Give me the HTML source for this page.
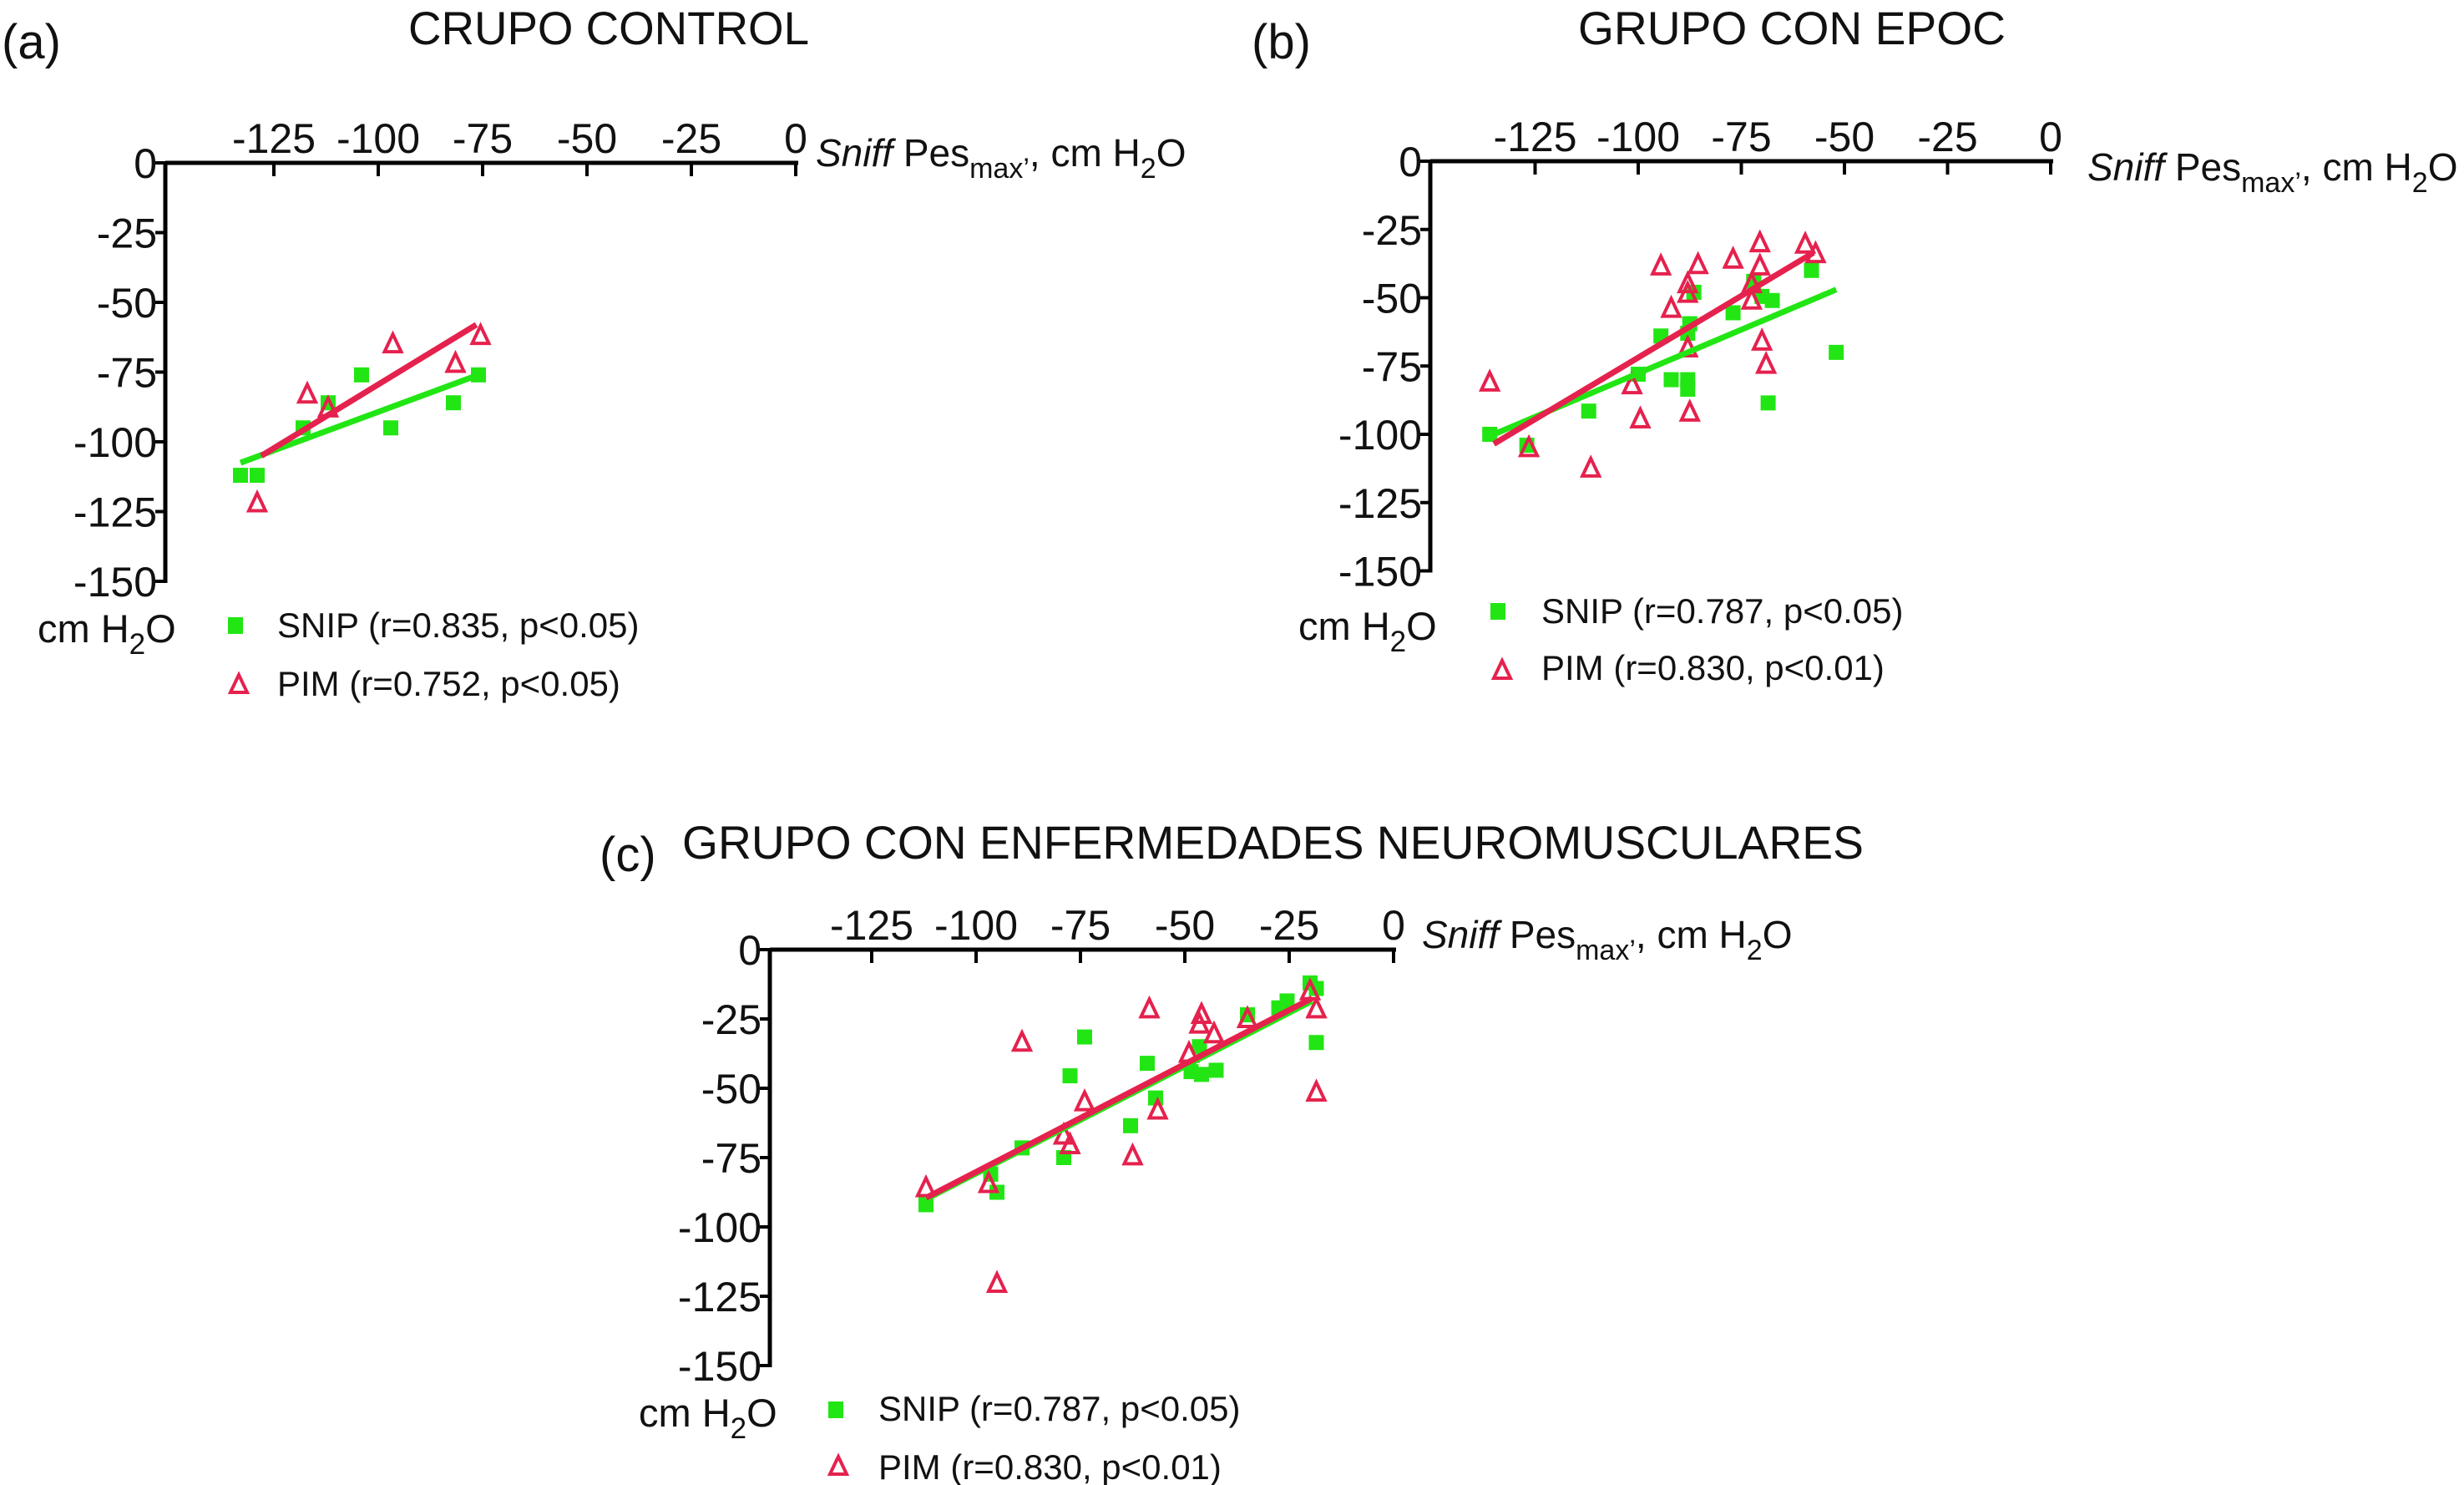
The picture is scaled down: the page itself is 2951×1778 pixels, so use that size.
<!DOCTYPE html>
<html><head><meta charset="utf-8"><style>
html,body{margin:0;padding:0;background:#fff;}
svg{display:block;font-family:"Liberation Sans",Arial,sans-serif;}
</style></head><body>
<svg id="fig" width="2951" height="1778" viewBox="0 0 2951 1778" xmlns="http://www.w3.org/2000/svg"></svg>
<script>
const xTicks = [-125,-100,-75,-50,-25,0];
const yTicks = [0,-25,-50,-75,-100,-125,-150];
// Panel A (control)
const aSnipX = [-133,-129,-118,-112,-104,-97,-82,-76];
const aSnipY = [-112,-112,-95,-86,-76,-95,-86,-76];
const aPimX = [-129,-117,-112,-96.5,-81.5,-75.5];
const aPimY = [-122,-83,-88,-65,-72,-62];
const aSnipFitX = [-133,-76];
const aSnipFitY = [-107.5,-76];
const aPimFitX = [-128,-76.5];
const aPimFitY = [-105,-58];
// Panel B (EPOC)
const bSnipX = [-136,-127,-112,-100,-94.5,-92,-88,-88,-87.5,-86.5,-77,-72,-70,-67.5,-68.5,-58,-52,-88];
const bSnipY = [-100,-104,-91.5,-78,-64,-80,-80,-83.5,-59.5,-48,-55.5,-44,-49.5,-51,-88.5,-40,-70,-63];
const bPimX = [-136,-126.5,-111.5,-101.5,-99.5,-94.5,-92,-88,-88,-88,-85.5,-87.5,-77,-72.5,-72.5,-70.5,-70.5,-70,-69,-59.5,-57];
const bPimY = [-81,-105,-112.5,-82,-94.5,-38.5,-54,-45,-48.5,-68.5,-38,-92,-36,-45,-51,-30,-38.5,-66,-74.5,-30.5,-34];
const bSnipFitX = [-135,-52];
const bSnipFitY = [-100,-47];
const bPimFitX = [-135,-57.5];
const bPimFitY = [-103.5,-33.5];
// Panel C (neuromuscular)
const cSnipX = [-112,-96.5,-95,-89,-79,-77.5,-74,-63,-59,-57,-46.5,-48.5,-46,-42.5,-35,-27.5,-25.5,-20,-18.5,-18.5];
const cSnipY = [-92,-81,-87.5,-71.5,-75,-45.5,-31.5,-63.5,-41,-53.5,-35,-44,-45,-43.5,-23.5,-21,-18.5,-12,-14,-33.5];
const cPimX = [-112,-97,-95,-89,-79,-77.5,-74,-62.5,-58.5,-56.5,-49,-46.5,-46,-43,-35,-20,-18.5,-18.5];
const cPimY = [-86,-84.5,-120.5,-33.5,-67,-70.5,-55,-74.5,-21.5,-58,-37.5,-27,-23.5,-30.5,-25,-15,-21.5,-51.5];
const cSnipFitX = [-112,-19.5];
const cSnipFitY = [-90,-18.5];
const cPimFitX = [-112,-19.5];
const cPimFitY = [-89.5,-17.5];

const NS = "http://www.w3.org/2000/svg";
const svg = document.getElementById('fig');
const GREEN = "#22e614", RED = "#e5214d";
function mk(tag, attrs, parent){
  const e = document.createElementNS(NS, tag);
  for (const k in attrs) e.setAttribute(k, attrs[k]);
  (parent||svg).appendChild(e);
  return e;
}
function txt(parent, x, y, s, size, anchor, extra){
  const t = mk('text', Object.assign({x:x, y:y, 'font-size':size, 'text-anchor':anchor||'start', fill:'#111'}, extra||{}), parent);
  t.textContent = s;
  return t;
}

function panel(id, g, sx, sy, px, py, sfx, sfy, pfx, pfy){
  const grp = mk('g', {});
  
  
  const X = v => g.x0 + v * g.kx;
  const Y = v => g.y0 - v * g.ky;
  const xa = mk('line', {x1:g.ax, y1:g.y0, x2:g.x0+3, y2:g.y0, stroke:'#000','stroke-width':5}, grp);
  
  
  const ya = mk('line', {x1:g.ax, y1:g.y0-2, x2:g.ax, y2:Y(-150)+2, stroke:'#000','stroke-width':5}, grp);
  
  
  xTicks.forEach(v=>{
    mk('line', {x1:X(v), y1:g.y0, x2:X(v), y2:g.y0+16, stroke:'#000','stroke-width':4}, grp);
    const t = txt(grp, X(v), g.y0-12, v, 50, 'middle');
    
    
  });
  yTicks.forEach(v=>{
    mk('line', {x1:g.ax-12, y1:Y(v), x2:g.ax, y2:Y(v), stroke:'#000','stroke-width':4}, grp);
    const t = txt(grp, g.ax-10, Y(v)+18, v, 50, 'end');
    
    
  });
  sx.forEach((v,i)=>{
    const r = mk('rect', {x:X(v)-9, y:Y(sy[i])-9, width:18, height:18, fill:GREEN}, grp);
    
    
  });
  px.forEach((v,i)=>{
    const cx = X(v), cy = Y(py[i]);
    const p = mk('polygon', {points:`${cx},${cy-12} ${cx-10},${cy+9} ${cx+10},${cy+9}`, fill:'none', stroke:RED, 'stroke-width':4}, grp);
    
    
  });
  const l1 = mk('line', {x1:X(sfx[0]), y1:Y(sfy[0]), x2:X(sfx[1]), y2:Y(sfy[1]), stroke:GREEN, 'stroke-width':7}, grp);
  
  
  const l2 = mk('line', {x1:X(pfx[0]), y1:Y(pfy[0]), x2:X(pfx[1]), y2:Y(pfy[1]), stroke:RED, 'stroke-width':7}, grp);
  
  
  return grp;
}

function axisLabel(id, x, y){
  const t = mk('text', {x:x, y:y, 'font-size':46, fill:'#111'});
  
  
  t.innerHTML = '<tspan font-style="italic">Sniff</tspan> Pes<tspan font-size="34" dy="14">max</tspan><tspan font-size="34">’</tspan><tspan dy="-14">, cm H</tspan><tspan font-size="34" dy="14">2</tspan><tspan dy="-14">O</tspan>';
}
function yUnit(id, x, y){
  const t = mk('text', {x:x, y:y, 'font-size':47, fill:'#111'});
  
  
  t.innerHTML = 'cm H<tspan font-size="35" dy="14">2</tspan><tspan dy="-14">O</tspan>';
}
function legend(id, sqx, sqy, tx, ty1, trx, try_, ty2, s1, s2){
  const r = mk('rect', {x:sqx-9, y:sqy-10, width:18, height:20, fill:GREEN});
  
  
  const a = txt(svg, tx, ty1, s1, 42, 'start');
  
  
  const p = mk('polygon', {points:`${trx},${try_-12} ${trx-10},${try_+9} ${trx+10},${try_+9}`, fill:'none', stroke:RED, 'stroke-width':4});
  
  
  const b = txt(svg, tx, ty2, s2, 42, 'start');
  
  
}

panel('a', {x0:953, kx:5.0, y0:195, ky:3.34, ax:198}, aSnipX, aSnipY, aPimX, aPimY, aSnipFitX, aSnipFitY, aPimFitX, aPimFitY);
let t;
t = txt(svg, 2, 70, '(a)', 58, 'start');  
t = txt(svg, 729, 53, 'CRUPO CONTROL', 56, 'middle', {textLength:480, lengthAdjust:'spacingAndGlyphs'});  
axisLabel('a', 977, 199);
yUnit('a', 45, 769);
legend('a', 282, 749, 332, 763, 286, 820, 833, 'SNIP (r=0.835, p<0.05)', 'PIM (r=0.752, p<0.05)');

panel('b', {x0:2456, kx:4.94, y0:193, ky:3.27, ax:1713}, bSnipX, bSnipY, bPimX, bPimY, bSnipFitX, bSnipFitY, bPimFitX, bPimFitY);
t = txt(svg, 1499, 70, '(b)', 58, 'start');  
t = txt(svg, 2146, 53, 'GRUPO CON EPOC', 56, 'middle', {textLength:512, lengthAdjust:'spacingAndGlyphs'});  
axisLabel('b', 2500, 216);
yUnit('b', 1555, 766);
legend('b', 1794, 732, 1846, 746, 1799, 803, 814, 'SNIP (r=0.787, p<0.05)', 'PIM (r=0.830, p<0.01)');

panel('c', {x0:1669, kx:5.0, y0:1137, ky:3.32, ax:922}, cSnipX, cSnipY, cPimX, cPimY, cSnipFitX, cSnipFitY, cPimFitX, cPimFitY);
t = txt(svg, 718, 1043, '(c)', 58, 'start');  
t = txt(svg, 817, 1028, 'GRUPO CON ENFERMEDADES NEUROMUSCULARES', 56, 'start', {textLength:1415, lengthAdjust:'spacingAndGlyphs'});  
axisLabel('c', 1703, 1135);
yUnit('c', 765, 1708);
legend('c', 1001, 1688, 1052, 1701, 1004, 1756, 1771, 'SNIP (r=0.787, p<0.05)', 'PIM (r=0.830, p<0.01)');
</script>
</body></html>
